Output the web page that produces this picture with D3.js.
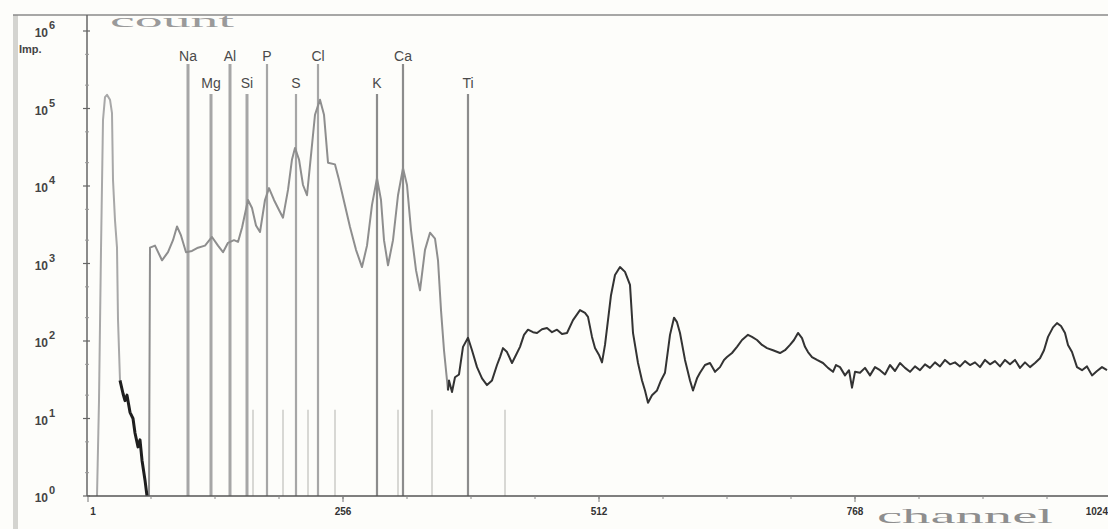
<!DOCTYPE html>
<html>
<head>
<meta charset="utf-8">
<script src="https://cdn.jsdelivr.net/npm/d3@7"></script>
<style>
  body { margin: 0; background: #fdfdfa; }
  svg { display: block; }
</style>
</head>
<body>
<div class="container"></div>
<script>
var width = 1108, height = 529;

// spectrum: [channel, counts]
var peak_low = [[10,1],[12,17],[14,1500],[16,71000],[18,140000],[20,150000],[23,130000],[25,87000],
  [26,12000],[28,3600],[30,1600],[31,190],[33,31]];
var noise_low = [[33,31],[36,21],[38,17],[40,20],[43,12],[46,10],[48,6.5],[51,4.3],[53,5.3],[55,2.9],[58,1.6],[60,1]];
var lines_part = [[62,1],[63,1600],[68,1700],[75,1100],[81,1400],[86,2000],[90,3000],[94,2300],[99,1400],
  [105,1450],[111,1600],[118,1700],[125,2200],[131,1700],[136,1400],[141,1850],[147,2000],[151,1900],
  [155,2900],[161,6600],[165,5200],[169,3100],[173,2550],[178,6600],[182,9400],[187,6600],[192,4900],
  [196,3900],[201,8900],[205,22000],[208,31000],[212,22000],[216,10300],[220,7600],[224,25000],
  [228,83000],[233,130000],[237,83000],[241,20000],[248,19000],[252,12000],[256,7200],[263,2950],
  [269,1500],[275,900],[280,1700],[285,5700],[290,12600],[294,6600],[297,2000],[301,950],[306,2000],
  [311,7600],[316,17000],[320,10300],[324,2700],[329,820],[333,450],[338,1500],[343,2500],[348,2100],
  [351,1100],[354,250],[357,76],[361,23]];
var tail = [[361,23],[362,31],[365,22],[368,34],[372,37],[376,84],[381,110],[385,76],[390,46],[395,33],
  [400,27],[405,31],[410,49],[413,62],[416,81],[420,72],[425,52],[429,66],[433,84],[437,120],[441,140],
  [446,130],[450,127],[455,142],[460,147],[465,130],[470,140],[475,123],[480,127],[486,186],[493,250],
  [498,230],[501,205],[505,113],[508,81],[512,66],[515,53],[518,89],[521,186],[524,390],[528,710],
  [533,900],[538,780],[543,530],[546,127],[551,52],[555,31],[558,23],[561,16],[565,20],[570,23],
  [574,31],[578,39],[581,76],[583,120],[587,200],[590,175],[593,127],[598,57],[603,31],[606,23],
  [610,33],[613,39],[618,49],[623,52],[628,40],[633,46],[637,57],[640,62],[645,70],[650,84],[655,103],
  [661,120],[665,113],[670,103],[675,89],[680,81],[686,76],[693,70],[698,76],[703,89],[707,103],
  [711,127],[715,109],[718,84],[721,72],[725,62],[730,57],[736,52],[741,45],[746,40],[749,49],[753,46],
  [758,36],[762,42],[765,25],[768,40],[773,39],[778,45],[783,36],[788,46],[793,42],[798,37],[803,49],
  [808,41],[813,52],[818,45],[823,40],[828,47],[833,42],[838,50],[843,45],[848,53],[853,47],[858,57],
  [863,50],[868,53],[873,47],[878,55],[883,49],[888,53],[893,46],[898,57],[903,50],[908,55],[913,47],
  [918,57],[923,50],[928,57],[933,45],[938,53],[943,46],[948,52],[953,60],[957,76],[961,113],[966,150],
  [970,170],[974,156],[978,127],[981,89],[985,72],[990,46],[995,42],[1000,47],[1005,36],[1010,41],
  [1015,46],[1020,42]];

// element markers
var elem_names = ["Na","Mg","Al","Si","P","S","Cl","K","Ca","Ti"];
var elem_channels = [101,124,143,160,180,209,231,290,316,381];
var elem_rows = [0,1,0,1,0,1,0,1,0,1];
var faint_channels = [166,196,221,248,311,345,418];
var faint_top = 13;

var x_ticks = [1,256,512,768,1024];
var x_tick_labels = ["1","256","512","768","1024"];
var y_decades = [0,1,2,3,4,5,6];

var x_scale = d3.scaleLinear().domain([0,1024]).range([87,1111]);
var y_scale = d3.scaleLog().domain([1,1e6]).range([496,31]);

var svg = d3.select("div.container").append("svg")
    .attr("width", width)
    .attr("height", height)
    .style("background", "#fdfdfa");

// frame
svg.append("rect").attr("x",13).attr("y",15).attr("width",5).attr("height",514).attr("fill","#d4d4d0");
svg.append("line").attr("x1",13).attr("x2",width).attr("y1",15).attr("y2",15)
    .attr("stroke","#8a8a8a").attr("stroke-width",1.5);

svg.append("clipPath").attr("id","plot")
  .append("rect").attr("x",88).attr("y",16).attr("width",width-88).attr("height",480);
var g = svg.append("g").attr("clip-path","url(#plot)");

// faint short markers near the bottom
faint_channels.forEach(function (c) {
  g.append("line")
      .attr("x1", x_scale(c)).attr("x2", x_scale(c))
      .attr("y1", y_scale(faint_top)).attr("y2", y_scale(1))
      .attr("stroke", "#d8d8d4").attr("stroke-width", 2);
});

// element lines
elem_names.forEach(function (name, i) {
  var cx = x_scale(elem_channels[i]);
  var top = elem_rows[i] == 0 ? 64 : 94;
  g.append("line")
      .attr("x1", cx).attr("x2", cx)
      .attr("y1", top).attr("y2", y_scale(1))
      .attr("stroke", i < 7 ? "#a6a6a6" : "#8c8c8c")
      .attr("stroke-width", i < 4 ? 3 : 2.2);
  svg.append("text")
      .attr("x", cx).attr("y", elem_rows[i] == 0 ? 61 : 88)
      .attr("text-anchor", "middle")
      .attr("font-family", "Liberation Sans, Arial, sans-serif")
      .attr("font-size", 14)
      .attr("fill", "#4a4a4a")
      .text(name);
});

var line = d3.line()
    .x(function(d) { return x_scale(d[0]); })
    .y(function(d) { return y_scale(Math.max(1, d[1])); });

var plot_line = function (data, color, w) {
  g.append("path")
      .datum(data)
      .attr("fill", "none")
      .attr("stroke", color)
      .attr("stroke-linejoin", "round")
      .attr("stroke-width", w)
      .attr("d", line);
};

plot_line(peak_low, "#a8a8a8", 2);
plot_line(lines_part, "#8e8e8e", 2);
plot_line(noise_low, "#1e1e1e", 3);
plot_line(tail, "#333333", 2);

// axes
svg.append("line").attr("x1",87).attr("x2",87).attr("y1",15).attr("y2",496)
    .attr("stroke","#666").attr("stroke-width",1.5);
svg.append("line").attr("x1",87).attr("x2",width).attr("y1",496).attr("y2",496)
    .attr("stroke","#555").attr("stroke-width",1.5);

// y ticks
y_decades.forEach(function (p) {
  var y = y_scale(Math.pow(10,p));
  svg.append("line").attr("x1",83).attr("x2",90).attr("y1",y).attr("y2",y)
      .attr("stroke","#666").attr("stroke-width",1.2);
  if (p < 6) {
    [2,5].forEach(function (m) {
      var ym = y_scale(m*Math.pow(10,p));
      svg.append("line").attr("x1",85).attr("x2",89).attr("y1",ym).attr("y2",ym)
          .attr("stroke","#999").attr("stroke-width",1);
    });
  }
  svg.append("text")
      .attr("x", 48).attr("y", y + 6)
      .attr("text-anchor", "end")
      .attr("font-family", "Liberation Sans, Arial, sans-serif")
      .attr("font-weight", "bold")
      .attr("font-size", 12)
      .attr("fill", "#444")
      .text("10");
  svg.append("text")
      .attr("x", 49).attr("y", y - 2)
      .attr("font-family", "Liberation Sans, Arial, sans-serif")
      .attr("font-weight", "bold")
      .attr("font-size", 11)
      .attr("fill", "#444")
      .text(p);
});

svg.append("text")
    .attr("x", 19).attr("y", 53)
    .attr("font-family", "Liberation Sans, Arial, sans-serif")
    .attr("font-weight", "bold")
    .attr("font-size", 11)
    .attr("fill", "#444")
    .text("Imp.");

// x ticks
for (var c = 64; c <= 1024; c += 64) {
  svg.append("line").attr("x1",x_scale(c)).attr("x2",x_scale(c)).attr("y1",496).attr("y2",499)
      .attr("stroke","#888").attr("stroke-width",1);
}
x_ticks.forEach(function (c, i) {
  svg.append("line").attr("x1",x_scale(c)).attr("x2",x_scale(c)).attr("y1",496).attr("y2",502)
      .attr("stroke","#777").attr("stroke-width",1);
  svg.append("text")
      .attr("x", i == 4 ? width : x_scale(c) + (i == 0 ? 5 : 0)).attr("y", 515)
      .attr("text-anchor", i == 4 ? "end" : "middle")
      .attr("font-family", "Liberation Sans, Arial, sans-serif")
      .attr("font-weight", "bold")
      .attr("font-size", 10)
      .attr("fill", "#333")
      .text(x_tick_labels[i]);
});

// axis titles
svg.append("text")
    .attr("x", 110).attr("y", 27)
    .attr("font-family", "Liberation Serif, Times New Roman, serif")
    .attr("font-size", 18)
    .attr("textLength", 124)
    .attr("lengthAdjust", "spacingAndGlyphs")
    .attr("fill", "#9a9a9a")
    .text("count");
svg.append("text")
    .attr("x", 877).attr("y", 523)
    .attr("font-family", "Liberation Serif, Times New Roman, serif")
    .attr("font-size", 22)
    .attr("textLength", 176)
    .attr("lengthAdjust", "spacingAndGlyphs")
    .attr("fill", "#8e8e8e")
    .text("channel");
</script>
</body>
</html>
